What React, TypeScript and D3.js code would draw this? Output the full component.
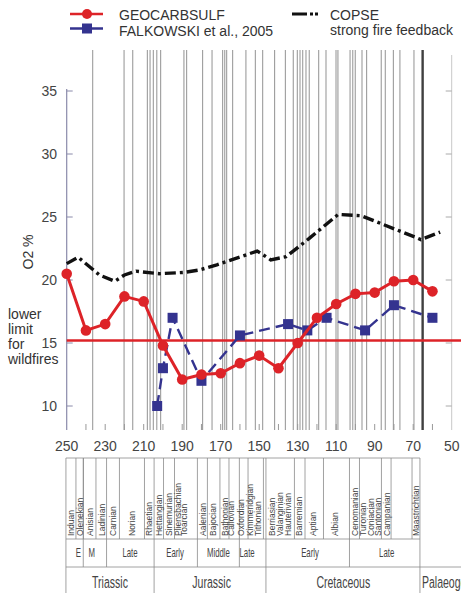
import React from "react";
import * as d3 from "d3";

// ---------- data ----------
const geocarbAge = [250, 240, 230, 220, 210, 200, 190, 180, 170, 160, 150, 140, 130, 120, 110, 100, 90, 80, 70, 60];
const geocarbO2 = [20.5, 16.0, 16.5, 18.7, 18.3, 14.8, 12.1, 12.5, 12.6, 13.4, 14.0, 13.0, 15.0, 17.0, 18.1, 18.9, 19.0, 19.9, 20.0, 19.1];

const falkAge = [203, 200, 195, 180, 160, 135, 125, 115, 95, 80, 60];
const falkO2 = [10.0, 13.0, 17.0, 12.0, 15.6, 16.5, 16.0, 17.0, 16.0, 18.0, 17.0];

const copseAge = [250, 244, 233, 225, 220, 214, 202, 189, 181, 172, 151, 144, 136, 124, 109, 97, 69, 66, 56];
const copseO2 = [21.3, 21.8, 20.4, 19.9, 20.4, 20.7, 20.5, 20.6, 20.8, 21.2, 22.3, 21.6, 21.85, 23.3, 25.2, 25.1, 23.4, 23.2, 23.8];

const wildfireLimit = 15.2;

const yTicks = [10, 15, 20, 25, 30, 35];
const xTickLabels = [250, 230, 210, 190, 170, 150, 130, 110, 90, 70, 50];
const xMinorTicks = [240, 230, 220, 210, 200, 190, 180, 170, 160, 150, 140, 130, 120, 110, 100, 90, 80, 70, 60];

const boundaryAges = [236.5, 220.2, 215.7, 208.1, 206.7, 205.0, 203.2, 201.2, 189.1, 187.7, 179.4, 174.5, 169.0, 167.9, 166.9, 163.8, 156.9, 152.0, 148.2, 142.0, 136.4, 132.3, 130.2, 128.8, 127.4, 125.7, 124.0, 119.1, 115.3, 110.1, 109.1, 102.8, 101.4, 100.1, 96.6, 94.2, 86.6, 84.5, 80.3, 76.9, 69.6];
const kpgAge = 65.1;

const stageNames = ["Induan", "Olenekian", "Anisian", "Ladinian", "Carnian", "Norian", "Rhaetian", "Hettangian", "Sinemurian", "Pliensbachian", "Toarcian", "Aalenian", "Bajocian", "Bathonian", "Callovian", "Oxfordian", "Kimmeridgian", "Tithonian", "Berriasian", "Valanginian", "Hauterivian", "Barremian", "Aptian", "Albian", "Cenomanian", "Turonian", "Coniacian", "Santonian", "Campanian", "Maastrichtian"];
const stageLabelAge = [247.9, 243.1, 237.9, 231.8, 225.8, 216.2, 207.1, 202.1, 196.7, 192.0, 189.1, 179.4, 173.8, 167.9, 164.6, 159.5, 154.9, 150.5, 143.5, 139.2, 135.0, 129.3, 121.9, 110.6, 100.2, 95.9, 91.9, 88.4, 83.8, 68.5];
const stageDividerAge = [245.2, 241.3, 234.8, 222.6, 209.6, 199.7, 194.0, 176.9, 170.4, 165.7, 155.8, 147.8, 131.7, 126.2, 116.6, 97.9, 86.5, 81.5, 70.6];

const epochNames = ["E", "M", "Late", "Early", "Middle", "Late", "Early", "Late"];
const epochLabelAge = [244.0, 237.0, 217.1, 193.7, 171.2, 156.3, 123.6, 83.8];
const epochDividerAge = [241.4, 229.3, 182.1, 160.3, 103.1];

const periodNames = ["Triassic", "Jurassic", "Cretaceous"];
const periodLabelAge = [227.5, 174.7, 106.3];
const periodDividerAge = [250.4, 204.6, 146.5, 66.5];
const nextPeriodName = "Palaeogene";

// ---------- component ----------
const FONT = "'Liberation Sans', Arial, Helvetica, sans-serif";
const RED = "#dd2328";
const BLUE = "#34338f";

export default function App() {
  const W = 461;
  const H = 593;
  const x = d3.scaleLinear().domain([250, 50]).range([66.7, 451.7]);
  const y = d3.scaleLinear().domain([10, 35]).range([406, 91]);
  const plotTop = 50;
  const plotBottom = 430;

  const lineGen = d3
    .line<[number, number]>()
    .x((d) => x(d[0]))
    .y((d) => y(d[1]));

  const geocarb = d3.zip(geocarbAge, geocarbO2) as [number, number][];
  const falk = d3.zip(falkAge, falkO2) as [number, number][];
  const copse = d3.zip(copseAge, copseO2) as [number, number][];

  const tTop = 458;
  const stageBottom = 539;
  const epochBottom = 567;
  const tBottom = 593;
  const tLeft = x(periodDividerAge[0]);
  const tRight = x(periodDividerAge[periodDividerAge.length - 1]);

  return (
    <svg
      width={W}
      height={H}
      style={{ position: "absolute", left: 0, top: 0, background: "#fff" }}
      fontFamily={FONT}
    >
      <rect width={W} height={H} fill="#fff" />

      {/* stage boundary lines */}
      {boundaryAges.map((a, i) => (
        <line key={"b" + i} x1={x(a)} x2={x(a)} y1={plotTop} y2={plotBottom} stroke="#9c9c9c" strokeWidth={1.1} />
      ))}
      <line x1={x(kpgAge)} x2={x(kpgAge)} y1={plotTop} y2={plotBottom} stroke="#404040" strokeWidth={2.4} />

      {/* left axis */}
      <line x1={x(250)} x2={x(250)} y1={y(35) - 2} y2={plotBottom} stroke="#8a8aaa" strokeWidth={1.2} />
      {yTicks.map((t) => (
        <g key={"yl" + t}>
          <line x1={x(250)} x2={x(250) + 6} y1={y(t)} y2={y(t)} stroke="#8a8aaa" strokeWidth={1} />
          <text x={57} y={y(t)} dy="0.36em" textAnchor="end" fontSize={14} fill="#444">
            {t}
          </text>
        </g>
      ))}
      {/* right axis */}
      <line x1={x(50)} x2={x(50)} y1={55} y2={plotBottom} stroke="#c8c8c8" strokeWidth={1} />
      {yTicks.map((t) => (
        <line key={"yr" + t} x1={x(50) - 6} x2={x(50)} y1={y(t)} y2={y(t)} stroke="#aaa" strokeWidth={1} />
      ))}
      {/* bottom ticks */}
      {xMinorTicks.map((t) => (
        <line key={"xt" + t} x1={x(t)} x2={x(t)} y1={plotBottom - 6} y2={plotBottom} stroke="#999" strokeWidth={1} />
      ))}
      {xTickLabels.map((t) => (
        <text key={"xl" + t} x={x(t)} y={446} dy="0.36em" textAnchor="middle" fontSize={14} fill="#444">
          {t}
        </text>
      ))}

      {/* y label */}
      <text transform="translate(33,252) rotate(-90)" textAnchor="middle" fontSize={14} fill="#333">
        O2 %
      </text>
      {/* wildfire text */}
      {["lower", "limit", "for", "wildfires"].map((s, i) => (
        <text key={s} x={8} y={319 + i * 15} fontSize={14} fill="#333">
          {s}
        </text>
      ))}

      {/* wildfire limit */}
      <line x1={x(250)} x2={W} y1={y(wildfireLimit)} y2={y(wildfireLimit)} stroke={RED} strokeWidth={2.4} />

      {/* COPSE */}
      <path d={lineGen(copse) || ""} fill="none" stroke="#111" strokeWidth={3.4} strokeDasharray="11,4,3,4" />

      {/* Falkowski */}
      <path d={lineGen(falk) || ""} fill="none" stroke={BLUE} strokeWidth={2.4} strokeDasharray="11,6" />
      {falk.map((d, i) => (
        <rect key={"f" + i} x={x(d[0]) - 5} y={y(d[1]) - 5} width={10} height={10} fill={BLUE} />
      ))}

      {/* GEOCARBSULF */}
      <path d={lineGen(geocarb) || ""} fill="none" stroke={RED} strokeWidth={3} />
      {geocarb.map((d, i) => (
        <circle key={"g" + i} cx={x(d[0])} cy={y(d[1])} r={5.3} fill={RED} />
      ))}

      {/* legend */}
      <line x1={70} x2={103} y1={14} y2={14} stroke={RED} strokeWidth={2.6} />
      <circle cx={87} cy={14} r={5} fill={RED} />
      <text x={119} y={19.5} fontSize={14} fill="#333">GEOCARBSULF</text>
      <line x1={70} x2={103} y1={28.5} y2={28.5} stroke={BLUE} strokeWidth={2.6} />
      <rect x={82} y={23.5} width={10} height={10} fill={BLUE} />
      <text x={119} y={36} fontSize={14} fill="#333">FALKOWSKI et al., 2005</text>
      <line x1={292} x2={318} y1={14} y2={14} stroke="#111" strokeWidth={3.2} strokeDasharray="15,3,3,2,3,50" />
      <text x={330} y={19.5} fontSize={14} fill="#333">COPSE</text>
      <text x={330} y={35} fontSize={14} fill="#333">strong fire feedback</text>

      {/* time scale table */}
      <g stroke="#8a8a8a" strokeWidth={0.8}>
        <line x1={tLeft} x2={tRight} y1={tTop} y2={tTop} />
        <line x1={tLeft} x2={tRight} y1={stageBottom} y2={stageBottom} />
        <line x1={tLeft} x2={W} y1={epochBottom} y2={epochBottom} />
        {stageDividerAge.map((a, i) => (
          <line key={"sd" + i} x1={x(a)} x2={x(a)} y1={tTop} y2={stageBottom} />
        ))}
        {epochDividerAge.map((a, i) => (
          <line key={"ed" + i} x1={x(a)} x2={x(a)} y1={tTop} y2={epochBottom} />
        ))}
        {periodDividerAge.map((a, i) => (
          <line key={"pd" + i} x1={x(a)} x2={x(a)} y1={tTop} y2={tBottom} />
        ))}
      </g>
      {stageNames.map((s, i) => (
        <text
          key={"sn" + i}
          transform={`translate(${x(stageLabelAge[i])},536) rotate(-90)`}
          dy="0.35em"
          fontSize={8.5}
          fill="#444"
        >
          {s}
        </text>
      ))}
      {epochNames.map((s, i) => (
        <text
          key={"en" + i}
          transform={`translate(${x(epochLabelAge[i])},557) scale(0.6,1)`}
          textAnchor="middle"
          fontSize={13}
          fill="#444"
        >
          {s}
        </text>
      ))}
      {periodNames.map((s, i) => (
        <text
          key={"pn" + i}
          transform={`translate(${x(periodLabelAge[i])},588) scale(0.62,1)`}
          textAnchor="middle"
          fontSize={17}
          fill="#444"
        >
          {s}
        </text>
      ))}
      <text transform={`translate(${tRight + 2},588) scale(0.62,1)`} fontSize={17} fill="#444">
        {nextPeriodName}
      </text>
    </svg>
  );
}
